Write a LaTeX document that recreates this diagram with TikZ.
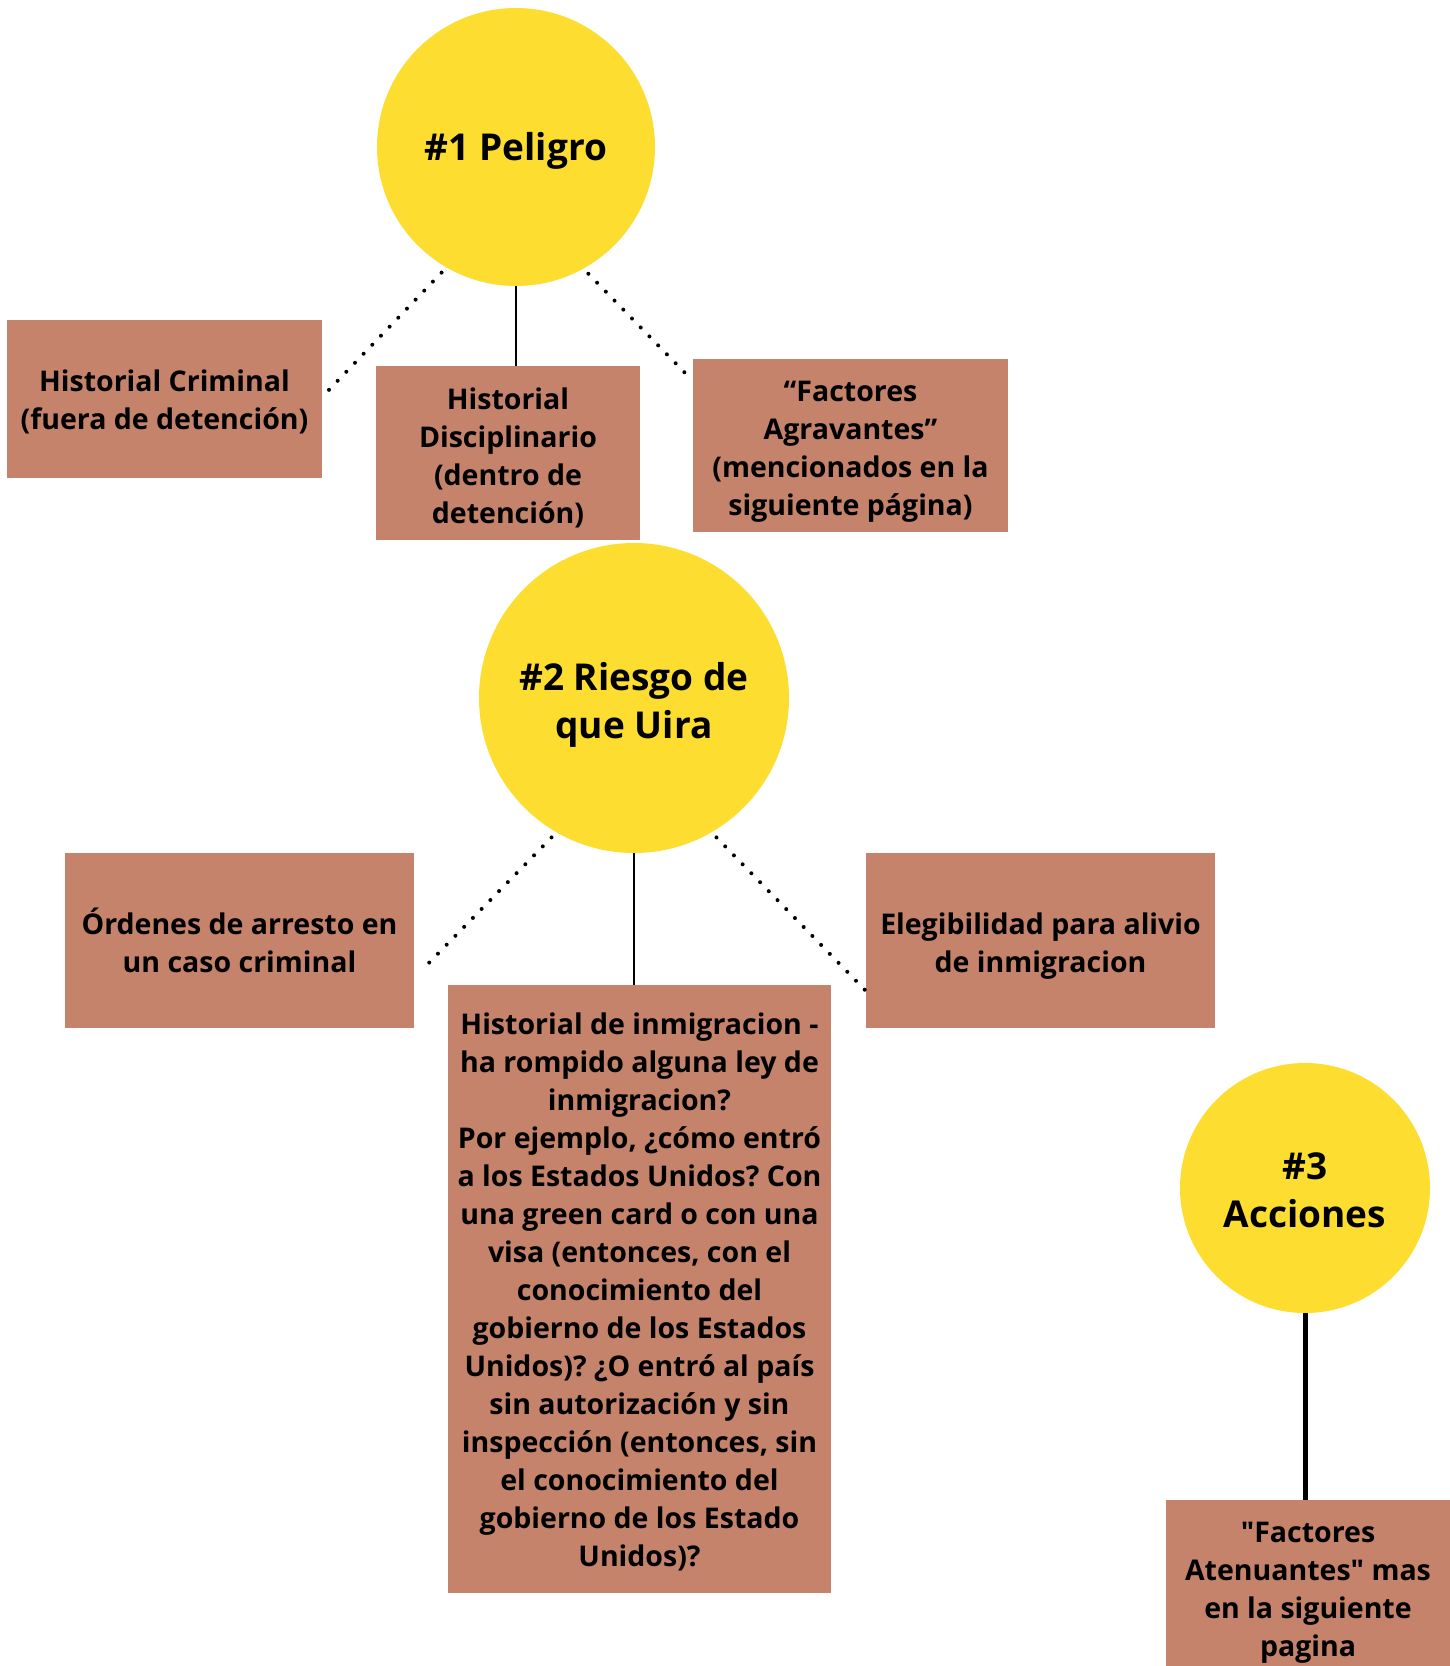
\documentclass[tikz,border=0pt]{standalone}
\usepackage{fontspec}
\setmainfont{Open Sans}[Ligatures=TeXOff]
\usetikzlibrary{calc}
\definecolor{yel}{HTML}{FDDE30}
\definecolor{boxc}{HTML}{C4836A}
\frenchspacing
\tikzset{
  box/.style={fill=boxc, draw=none, inner sep=0pt},
  boxtext/.style={align=center, inner sep=0pt,
    font=\bfseries\frenchspacing\fontsize{28.5}{38}\selectfont,
    execute at begin node=\strut, execute at end node=\strut},
  circ/.style={circle, fill=yel, draw=none, inner sep=0pt},
  circtext/.style={align=center, inner sep=0pt,
    font=\bfseries\frenchspacing\fontsize{37}{48}\selectfont,
    execute at begin node={\rule{0pt}{37pt}}},
  solidline/.style={line width=2.7pt, black},
  dotline/.style={line width=4pt, line cap=round, dash pattern=on 0pt off 12.5pt, black},
}
\begin{document}
\begin{tikzpicture}[x=1pt,y=-1pt]
\useasboundingbox (0,0) rectangle (1450,1666);
\clip (0,0) rectangle (1450,1666);
\fill[white] (0,0) rectangle (1450,1666);

% level 1
\node[circ, minimum size=278pt,
  label={[circtext, yshift=1pt]center:{\#1 Peligro}}] (c1) at (516,147) {};
\node[box, minimum width=315pt, minimum height=158pt,
  label={[boxtext, yshift=-6.4pt]center:{Historial Criminal\\(fuera de detención)}}] (A) at (164.5,399) {};
\node[box, minimum width=264pt, minimum height=174pt,
  label={[boxtext, yshift=-8.5pt]center:{Historial\\Disciplinario\\(dentro de\\detención)}}] (B) at (508,453) {};
\node[box, minimum width=315pt, minimum height=173pt,
  label={[boxtext, yshift=-8.5pt]center:{“Factores\\Agravantes”\\(mencionados en la\\siguiente página)}}] (C) at (850.5,445.5) {};

% level 2
\node[circ, minimum size=310pt,
  label={[circtext, yshift=-6.4pt]center:{\#2 Riesgo de\\que Uira}}] (c2) at (634,698) {};
\node[box, minimum width=349pt, minimum height=175pt,
  label={[boxtext, yshift=-5pt]center:{Órdenes de arresto en\\un caso criminal}}] (D) at (239.5,940.5) {};
\node[box, minimum width=383pt, minimum height=608pt,
  label={[boxtext, yshift=-6.4pt]center:{Historial de inmigracion -\\ha rompido alguna ley de\\inmigracion?\\Por ejemplo, ¿cómo entró\\a los Estados Unidos? Con\\una green card o con una\\visa (entonces, con el\\conocimiento del\\gobierno de los Estados\\Unidos)? ¿O entró al país\\sin autorización y sin\\inspección (entonces, sin\\el conocimiento del\\gobierno de los Estado\\Unidos)?}}] (E) at (639.5,1289) {};
\node[box, minimum width=349pt, minimum height=175pt,
  label={[boxtext, yshift=-7.5pt]center:{Elegibilidad para alivio\\de inmigracion}}] (F) at (1040.5,940.5) {};

% level 3
\node[circ, minimum size=250pt,
  label={[circtext, yshift=-2pt]center:{\#3\\Acciones}}] (c3) at (1305,1188) {};
\node[box, minimum width=284pt, minimum height=178pt,
  label={[boxtext, yshift=-6.4pt]center:{"Factores\\Atenuantes" mas\\en la siguiente\\pagina}}] (G) at (1308,1589) {};

% end points on box edges
\coordinate (Ae) at ($(A.north east)+(2,75)$);
\coordinate (Cw) at ($(C.north west)+(-4,18)$);
\coordinate (De) at ($(D.north east)+(7,118)$);
\coordinate (Fw) at ($(F.north west)+(-1,137)$);

% connectors
\draw[solidline] (c1.south) -- (c1.south |- B.north);
\draw[dotline, shorten <=7pt] (c1.240) -- (Ae);
\draw[dotline, shorten <=7pt] (c1.299) -- (Cw);

\draw[solidline] (c2.south) -- (c2.south |- E.north);
\draw[dotline, shorten <=7pt] (c2.240) -- (De);
\draw[dotline, shorten <=7pt] (c2.300) -- (Fw);

\draw[solidline, line width=5pt] (c3.south) -- (c3.south |- G.north);
\end{tikzpicture}
\end{document}
